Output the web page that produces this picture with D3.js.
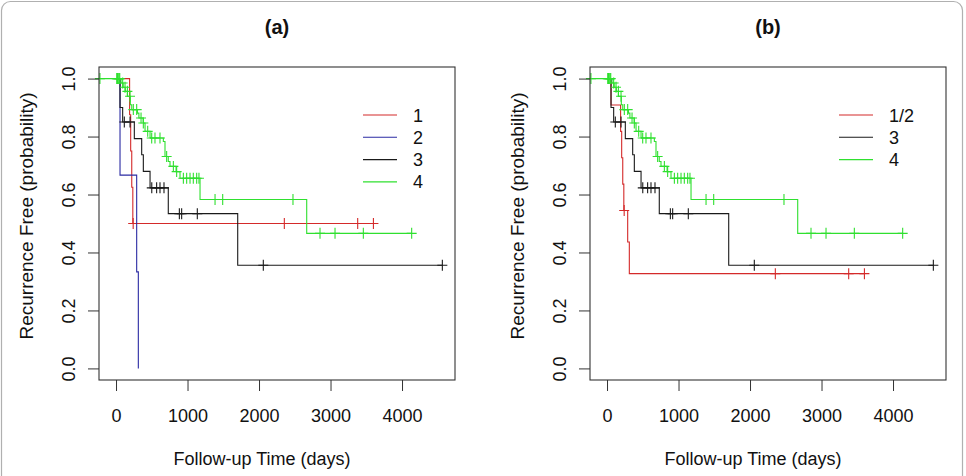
<!DOCTYPE html>
<html>
<head>
<meta charset="utf-8">
<script src="https://cdn.jsdelivr.net/npm/d3@7"></script>
<style>
  body { margin: 0; background: #fff; }
  svg text { font-family: "Liberation Sans", Arial, sans-serif; fill: #111; }
</style>
</head>
<body>
<div id="chart"></div>
<script>
// Data.
const panelTitles = ['(a)', '(b)'];
const xTicks = [0, 1000, 2000, 3000, 4000];
const yTicks = [0, 0.2, 0.4, 0.6, 0.8, 1.0];

// Group 1 (red) - step times, survival after step, censored times.
const g1Times = [0, 190, 205, 220, 235];
const g1Surv = [1, 0.875, 0.75, 0.625, 0.5];
const g1Cens = [240, 2354, 3380, 3600];

// Group 2 (blue).
const g2Times = [0, 56, 289, 312];
const g2Surv = [1, 0.667, 0.333, 0];
const g2Cens = [];

// Group 3 (black).
const g3Times = [0, 56, 93, 256, 359, 382, 476, 731, 1702];
const g3Surv = [1, 0.9, 0.85, 0.793, 0.737, 0.68, 0.623, 0.534, 0.356];
const g3Cens = [116, 196, 500, 568, 615, 671, 886, 918, 1137, 2060, 4564];

// Group 4 (green).
const g4Times = [-225, 70, 100, 130, 160, 200, 220, 300, 320, 380, 406, 476, 662, 685, 731, 755, 840, 895, 1175, 2667];
const g4Surv = [1, 0.985, 0.97, 0.956, 0.939, 0.91, 0.893, 0.881, 0.864, 0.847, 0.818, 0.795, 0.783, 0.731, 0.714, 0.697, 0.679, 0.656, 0.583, 0.466];
const g4Cens = [-225, 10, 20, 30, 42, 52, 93, 126, 159, 196, 242, 289, 350, 382, 443, 499, 545, 615, 708, 802, 848,
                942, 988, 1035, 1081, 1128, 1160, 1385, 1492, 2475, 2853, 3063, 3459, 4135];

// Groups 1/2 pooled (red, panel b).
const g12Times = [0, 56, 190, 205, 220, 235, 289, 312];
const g12Surv = [1, 0.909, 0.818, 0.727, 0.636, 0.545, 0.436, 0.327];
const g12Cens = [240, 2354, 3380, 3600];

const red = '#d42a2a', blue = '#2b2ba3', black = '#1a1a1a', green = '#2fe02f';

const panelA = [
  { name: '1', times: g1Times, surv: g1Surv, cens: g1Cens, color: red },
  { name: '2', times: g2Times, surv: g2Surv, cens: g2Cens, color: blue },
  { name: '3', times: g3Times, surv: g3Surv, cens: g3Cens, color: black },
  { name: '4', times: g4Times, surv: g4Surv, cens: g4Cens, color: green },
];
const panelB = [
  { name: '1/2', times: g12Times, surv: g12Surv, cens: g12Cens, color: red },
  { name: '3', times: g3Times, surv: g3Surv, cens: g3Cens, color: black },
  { name: '4', times: g4Times, surv: g4Surv, cens: g4Cens, color: green },
];

// Base.
const svg = d3.select('#chart')
  .append('svg')
  .attr('width', 966)
  .attr('height', 476);

svg.append('rect')
  .attr('x', 1.5).attr('y', 1.5)
  .attr('width', 961).attr('height', 490)
  .attr('rx', 9)
  .attr('fill', 'none')
  .attr('stroke', '#b0b0b0')
  .attr('stroke-width', 1.2);

const boxW = 356, boxH = 313, boxTop = 67;

function survAt(c, t) {
  let i = 0;
  c.times.forEach((d, k) => { if (d <= t) i = k; });
  return c.surv[i];
}

function drawPanel(left, title, curves, legendX) {
  const g = svg.append('g').attr('transform', `translate(${left},${boxTop})`);

  // Scales (R style 4% padding).
  const xScale = d3.scaleLinear().domain([-238, 4741]).range([0, boxW]);
  const yScale = d3.scaleLinear().domain([-0.04, 1.04]).range([boxH, 0]);

  // Title.
  g.append('text')
    .attr('x', boxW / 2)
    .attr('y', 34 - boxTop)
    .attr('text-anchor', 'middle')
    .style('font-size', '20px')
    .style('font-weight', 'bold')
    .text(title);

  // Curves.
  const line = d3.line()
    .x(d => xScale(d[0]))
    .y(d => yScale(d[1]))
    .curve(d3.curveStepAfter);

  curves.forEach(c => {
    const pts = c.times.map((t, i) => [t, c.surv[i]]);
    const end = d3.max([d3.max(c.cens) || 0, c.times[c.times.length - 1]]);
    pts.push([end, c.surv[c.surv.length - 1]]);

    g.append('path')
      .attr('d', line(pts))
      .attr('fill', 'none')
      .attr('stroke', c.color)
      .attr('stroke-width', 1.1);

    g.append('g')
      .selectAll('path')
      .data(c.cens)
      .join('path')
      .attr('d', t => {
        const x = xScale(t), y = yScale(survAt(c, t));
        return `M${x - 5},${y}H${x + 5}M${x},${y - 5.5}V${y + 5.5}`;
      })
      .attr('stroke', c.color)
      .attr('stroke-width', 1.1);
  });

  // Frame.
  g.append('rect')
    .attr('width', boxW).attr('height', boxH)
    .attr('fill', 'none')
    .attr('stroke', '#333')
    .attr('stroke-width', 1.1);

  // x axis.
  const xAxis = d3.axisBottom(xScale)
    .tickValues(xTicks)
    .tickFormat(d3.format('d'))
    .tickSizeInner(11)
    .tickSizeOuter(0)
    .tickPadding(18);
  const xAxisDraw = g.append('g')
    .attr('transform', `translate(0,${boxH})`)
    .call(xAxis);
  xAxisDraw.select('.domain').remove();
  xAxisDraw.selectAll('line').attr('stroke', '#333');
  xAxisDraw.selectAll('text').style('font-size', '18px').attr('fill', '#111');

  // y axis.
  const yAxis = d3.axisLeft(yScale)
    .tickValues(yTicks)
    .tickFormat(d3.format('.1f'))
    .tickSizeInner(11)
    .tickSizeOuter(0);
  const yAxisDraw = g.append('g').call(yAxis);
  yAxisDraw.select('.domain').remove();
  yAxisDraw.selectAll('line').attr('stroke', '#333');
  yAxisDraw.selectAll('text')
    .attr('transform', 'rotate(-90)')
    .attr('x', 0)
    .attr('y', -24)
    .attr('dy', 0)
    .attr('text-anchor', 'middle')
    .attr('fill', '#111')
    .style('font-size', '18px');

  // Axis titles.
  g.append('text')
    .attr('x', xScale(2000) + 3)
    .attr('y', 465 - boxTop)
    .attr('text-anchor', 'middle')
    .style('font-size', '18px')
    .text('Follow-up Time (days)');

  g.append('text')
    .attr('transform', `translate(-66,${216 - boxTop}) rotate(-90)`)
    .attr('text-anchor', 'middle')
    .style('font-size', '19px')
    .text('Recurrence Free (probability)');

  // Legend.
  const legend = g.append('g')
    .attr('transform', `translate(${legendX - left},${115 - boxTop})`);
  const rows = legend.selectAll('g')
    .data(curves)
    .join('g')
    .attr('transform', (d, i) => `translate(0,${i * 22.3})`);
  rows.append('line')
    .attr('x1', 0).attr('x2', 34)
    .attr('stroke', d => d.color)
    .attr('stroke-width', 1.1);
  rows.append('text')
    .attr('x', 50)
    .attr('y', 6.5)
    .style('font-size', '18px')
    .text(d => d.name);
}

drawPanel(99, panelTitles[0], panelA, 363);
drawPanel(590, panelTitles[1], panelB, 839);
</script>
</body>
</html>
